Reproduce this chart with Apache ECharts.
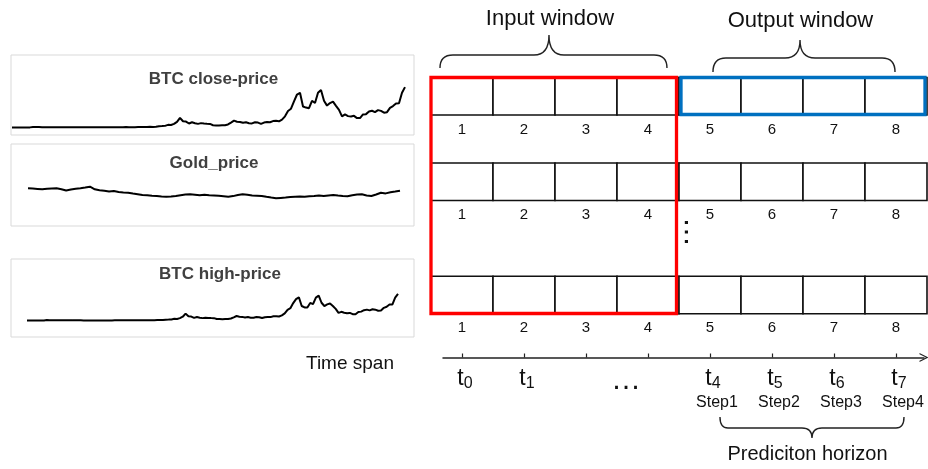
<!DOCTYPE html>
<html><head><meta charset="utf-8">
<script src="https://cdn.jsdelivr.net/npm/echarts@6/dist/echarts.min.js"></script>
<style>html,body{margin:0;padding:0;background:#fff}#c{width:928px;height:469px}</style>
</head><body><div id="c"></div>
<script>
// ---------------- data ----------------
const panelTitles = ['BTC close-price', 'Gold_price', 'BTC high-price'];
// monthly BTC close, Apr 2013 .. Mar 2024 (USD)
const btcClose = [
  120,125,100,100,130,135,200,1000,750,
  850,600,480,450,600,630,590,500,400,340,370,320,
  230,250,250,230,235,250,285,230,235,310,360,430,
  380,430,415,450,530,670,640,575,610,700,740,960,
  980,1180,1070,1350,2300,2500,2850,4700,4300,6400,10000,17000,
  11000,10400,7000,9200,7500,6400,7700,7000,6600,6300,4000,3700,
  3450,3850,4100,5350,8600,12000,10000,9600,8300,9200,7600,7200,
  9300,8600,6400,8700,9500,9200,11300,11700,10800,13800,19700,29000,
  33000,46000,58000,61000,37000,35000,34000,47000,43000,61000,66000,47000,
  38500,43000,45500,38000,31000,19500,23000,20000,19400,20500,16500,16600,
  23000,23500,28000,29500,27000,30500,29200,26000,27000,34500,37700,42300,
  42600,61000,71000
];
const goldPrice = [
  1720,1705,1690,1670,1695,1710,1720,1675,1610,1660,
  1700,1725,1755,1800,1670,1625,1595,1555,1585,1535,
  1515,1500,1460,1425,1385,1370,1345,1335,1315,1300,
  1310,1335,1375,1405,1420,1395,1370,1400,1375,1365,
  1345,1325,1300,1330,1385,1425,1395,1360,1350,1340,
  1295,1255,1220,1240,1260,1285,1300,1315,1295,1325,
  1335,1355,1330,1365,1385,1355,1335,1325,1370,1405,
  1420,1360,1335,1410,1500,1465,1525,1560,1600
];
const btcHigh = [
  145,135,110,105,140,145,215,1150,850,
  950,650,520,480,640,660,620,520,430,370,390,340,
  250,265,270,245,245,260,300,250,245,330,390,455,
  400,445,425,460,545,700,660,585,620,710,750,975,
  1000,1200,1100,1400,2400,2600,2900,4800,4400,6600,10500,19000,
  11500,10800,7300,9500,7800,6600,7900,7200,6700,6500,4200,3900,
  3600,4000,4200,5500,8800,12500,10500,10000,8500,9400,7800,7400,
  9500,8900,6700,8900,9700,9400,11500,12000,11000,14000,19500,29500,
  34000,48000,59000,64000,40000,36000,36000,48500,45000,63000,68500,49000,
  40000,44500,47000,40000,32000,21000,24000,21500,20000,21000,17500,17200,
  23500,24500,28500,30000,28000,31000,30000,27000,27500,35000,38000,44000,
  44000,63000,73500
];
const cellNumbers = [1, 2, 3, 4, 5, 6, 7, 8];
const inputCellCount = 4;
const timeSubs = ['0', '1', null, null, '4', '5', '6', '7'];
const stepLabels = ['', '', '', '', 'Step1', 'Step2', 'Step3', 'Step4'];
const windowTitles = ['Input window', 'Output window'];
const horizonTitle = 'Prediciton horizon';
const axisTitle = 'Time span';

// ---------------- layout ----------------
const FONT = "'Liberation Sans', Arial, Helvetica, sans-serif";
const BOX_L = 11, BOX_R = 414;
const panelLayout = [
  {box: [55, 135], line: [12, 405], y: [-13200, 127500], title: [213.5, 79]},
  {box: [144, 226], line: [28, 400], y: [-165, 3935], title: [214, 163]},
  {box: [259, 337], line: [27, 398], y: [-45500, 169700], title: [220, 274]}
];
const panelValues = [btcClose, goldPrice, btcHigh];
const ROW_TOP = [77.5, 163, 276.3];
const CELL_H = 37.5;
const FRAME_STYLE = [
  {color: '#ff0000', insetL: 0, insetR: 2.5},
  {color: '#0070c0', insetL: 2, insetR: 2}
];
const FRAME_Y = [[77.5, 313.5], [77.5, 114.5]];
const BRACES = [
  {x: [0.145, 3.806, 1.903], y: [68, 55, 35], r: 13, rc: 15},
  {x: [4.548, 7.484, 5.952], y: [72, 58, 40], r: 13, rc: 15},
  {x: [4.661, 7.629, 6.145], y: [417, 428, 438], r: 8, rc: 10}
];

const grids = [], xAxes = [], yAxes = [], series = [], graphics = [];

panelLayout.forEach((p, i) => {
  const vals = panelValues[i];
  const n = vals.length;
  const pxPer = (p.line[1] - p.line[0]) / (n - 1);
  grids.push({left: BOX_L, width: BOX_R - BOX_L, top: p.box[0], height: p.box[1] - p.box[0],
    show: true, borderColor: '#d9d9d9', borderWidth: 1, backgroundColor: '#fff'});
  xAxes.push({gridIndex: i, type: 'value', show: false,
    min: -(p.line[0] - BOX_L) / pxPer, max: (n - 1) + (BOX_R - p.line[1]) / pxPer});
  yAxes.push({gridIndex: i, type: 'value', show: false, min: p.y[0], max: p.y[1]});
  series.push({type: 'line', xAxisIndex: i, yAxisIndex: i, showSymbol: false, symbol: 'none',
    lineStyle: {color: '#000', width: 2}, data: vals.map((v, k) => [k, v]), silent: true});
  graphics.push({type: 'text', x: p.title[0], y: p.title[1],
    style: {text: panelTitles[i], font: 'bold 17px ' + FONT, fill: '#404040', align: 'center', verticalAlign: 'middle'}});
});

// diagram grid (x in cell units, y in diagram units, top-down)
grids.push({left: 431, top: 0, width: 496, height: 469});
xAxes.push({gridIndex: 3, type: 'value', show: false, min: 0, max: cellNumbers.length});
yAxes.push({gridIndex: 3, type: 'value', show: false, min: 0, max: 469, inverse: true});

// timeline grid
grids.push({left: 443, top: 300, width: 481, height: 57.5});
const tickValues = cellNumbers.map((c, i) => i);
const labelValues = tickValues.filter(i => timeSubs[i] != null);
xAxes.push({gridIndex: 4, type: 'value', min: -0.306, max: 7.452,
  axisLine: {show: true, lineStyle: {color: '#222', width: 1.5},
    symbol: ['none', 'path://M0,10 L5,0 L10,10 L8.6,10 L5,2.8 L1.4,10 Z'], symbolSize: [11, 9]},
  axisTick: {show: true, inside: true, length: 4, lineStyle: {color: '#222', width: 1.2}, customValues: tickValues},
  axisLabel: {show: true, customValues: labelValues, margin: 8,
    formatter: v => {
      const i = Math.round(v);
      if (timeSubs[i] == null) return '';
      let s = '{t|t}{s|' + timeSubs[i] + '}';
      if (stepLabels[i]) s += '\n{st|' + stepLabels[i] + '}';
      return s;
    },
    rich: {
      t: {fontSize: 23, fontFamily: FONT, color: '#111', lineHeight: 26, padding: [0, 0, 0, 6]},
      s: {fontSize: 16, fontFamily: FONT, color: '#111', lineHeight: 16, verticalAlign: 'bottom'},
      st: {fontSize: 16, fontFamily: FONT, color: '#111', lineHeight: 22, padding: [0, 0, 0, 14]}
    }},
  splitLine: {show: false}});
yAxes.push({gridIndex: 4, type: 'value', show: false, min: 0, max: 1});

// cells
const cellData = [];
ROW_TOP.forEach((_, r) => cellNumbers.forEach(c => cellData.push([c, r])));
series.push({type: 'custom', xAxisIndex: 3, yAxisIndex: 3, silent: true, clip: false, data: cellData,
  renderItem: (params, api) => {
    const c = api.value(0), r = api.value(1);
    const p0 = api.coord([c - 1, ROW_TOP[r]]);
    const p1 = api.coord([c, ROW_TOP[r] + CELL_H]);
    return {type: 'group', children: [
      {type: 'rect', shape: {x: p0[0], y: p0[1], width: p1[0] - p0[0], height: p1[1] - p0[1]},
        style: {fill: '#fff', stroke: '#111', lineWidth: 1.6}},
      {type: 'text', style: {text: String(c), x: (p0[0] + p1[0]) / 2, y: p1[1] + 14.5,
        font: '15px ' + FONT, fill: '#111', align: 'center', verticalAlign: 'middle'}}
    ]};
  }});

// input / output window frames
const frameData = [[0, inputCellCount], [inputCellCount, cellNumbers.length]];
series.push({type: 'custom', xAxisIndex: 3, yAxisIndex: 3, silent: true, clip: false, z: 5, data: frameData,
  renderItem: (params, api) => {
    const i = params.dataIndex, st = FRAME_STYLE[i], fy = FRAME_Y[i];
    const p0 = api.coord([api.value(0), fy[0]]);
    const p1 = api.coord([api.value(1), fy[1]]);
    return {type: 'rect', shape: {x: p0[0] + st.insetL, y: p0[1], width: p1[0] - p0[0] - st.insetL - st.insetR, height: p1[1] - p0[1]},
      style: {fill: 'none', stroke: st.color, lineWidth: 3.3}};
  }});

// braces
series.push({type: 'custom', xAxisIndex: 3, yAxisIndex: 3, silent: true, clip: false, data: BRACES.map((b, i) => [i]),
  renderItem: (params, api) => {
    const b = BRACES[params.dataIndex];
    const a = api.coord([b.x[0], b.y[0]]), e = api.coord([b.x[1], b.y[0]]);
    const m = api.coord([b.x[2], b.y[1]]), t = api.coord([b.x[2], b.y[2]]);
    const x0 = a[0], x1 = e[0], xc = m[0], yE = a[1], yM = m[1], yT = t[1], r = b.r, rc = b.rc;
    const d = `M${x0},${yE} Q${x0},${yM} ${x0 + r},${yM} L${xc - rc},${yM} Q${xc},${yM} ${xc},${yT} ` +
      `Q${xc},${yM} ${xc + rc},${yM} L${x1 - r},${yM} Q${x1},${yM} ${x1},${yE}`;
    return {type: 'path', shape: {pathData: d}, style: {fill: 'none', stroke: '#222', lineWidth: 1.4}};
  }});

// texts
graphics.push(
  {type: 'text', x: 550, y: 19, style: {text: windowTitles[0], font: '22px ' + FONT, fill: '#111', align: 'center', verticalAlign: 'middle'}},
  {type: 'text', x: 800.5, y: 21, style: {text: windowTitles[1], font: '22px ' + FONT, fill: '#111', align: 'center', verticalAlign: 'middle'}},
  {type: 'text', x: 807.5, y: 454, style: {text: horizonTitle, font: '20px ' + FONT, fill: '#111', align: 'center', verticalAlign: 'middle'}},
  {type: 'text', x: 350, y: 364, style: {text: axisTitle, font: '19px ' + FONT, fill: '#111', align: 'center', verticalAlign: 'middle'}},
  {type: 'text', x: 626, y: 381, style: {text: '…', font: '30px ' + FONT, fill: '#111', align: 'center', verticalAlign: 'middle'}},
  {type: 'text', x: 680, y: 232, rotation: Math.PI / 2, style: {text: '…', font: '30px ' + FONT, fill: '#111', align: 'center', verticalAlign: 'middle'}}
);

const chart = echarts.init(document.getElementById('c'), null, {renderer: 'canvas'});
chart.setOption({
  animation: false,
  backgroundColor: '#fff',
  grid: grids, xAxis: xAxes, yAxis: yAxes, series: series, graphic: graphics
});
</script>
</body></html>
